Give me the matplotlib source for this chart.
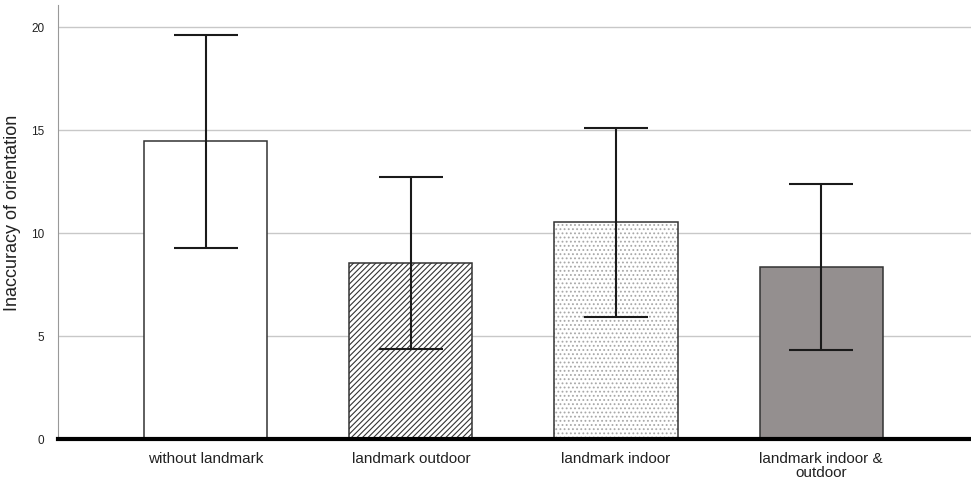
import matplotlib.pyplot as plt
import matplotlib.colors as mcolors
import numpy as np

plt.rcParams['font.family'] = ['Liberation Sans', 'DejaVu Sans']
plt.rcParams['hatch.linewidth'] = 0.8

conditions = ["without landmark", "landmark outdoor", "landmark indoor", "landmark indoor &\noutdoor"]
means = [14.47, 8.54, 10.53, 8.35]
ci_low = [9.27, 4.37, 5.92, 4.32]
ci_high = [19.61, 12.72, 15.10, 12.38]

fill_colors = ["white", "white", "white", "#948f8f"]
hatches = [None, "//////", "....", None]
hatch_colors = ["black", "#333333", "#a8a8a8", "black"]

fig = plt.figure(figsize=(9.71, 4.8), dpi=100)
ax = fig.add_axes([0.0597, 0.0854, 0.9403, 0.905])

x = np.arange(len(conditions))
for i in range(len(conditions)):
    b = ax.bar(x[i], means[i], width=0.6, color=fill_colors[i], edgecolor="#333333",
               linewidth=1.1, hatch=hatches[i], zorder=2)
    if hatches[i]:
        b[0]._hatch_color = mcolors.to_rgba(hatch_colors[i])

err = np.array([np.array(means) - np.array(ci_low), np.array(ci_high) - np.array(means)])
ax.errorbar(x, means, yerr=err, fmt="none", ecolor="#1a1a1a", elinewidth=1.5,
            capsize=23, capthick=1.5, zorder=3)

ax.set_xlim(-0.72, 3.73)
ax.set_ylim(0, 21.1)
ax.set_yticks([0, 5, 10, 15, 20])
ax.yaxis.grid(True, color="#c8c8c8", linewidth=1.0, zorder=0)
ax.set_axisbelow(True)

ax.set_xticks(x)
ax.set_xticklabels(conditions, fontsize=11, color="#222222", linespacing=1.0)
ax.tick_params(axis="x", length=0, pad=9)
ax.tick_params(axis="y", length=0, labelsize=8.5, pad=10, colors="#222222")

ax.spines["top"].set_visible(False)
ax.spines["right"].set_visible(False)
ax.spines["left"].set_color("#999999")
ax.spines["bottom"].set_linewidth(3)
ax.spines["bottom"].set_color("black")
ax.spines["bottom"].set_zorder(4)

ax.set_ylabel("Inaccuracy of orientation", fontsize=13, color="#222222")
ax.yaxis.set_label_coords(-0.04, 0.52)

fig.savefig("out.png", dpi=100)
